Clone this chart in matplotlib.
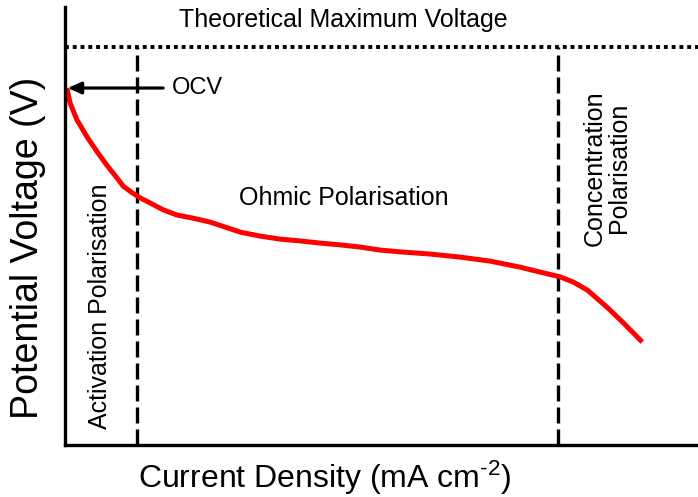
import matplotlib
matplotlib.use("Agg")
import matplotlib.pyplot as plt

plt.rcParams["font.family"] = ["Liberation Sans", "DejaVu Sans"]
plt.rcParams["mathtext.fontset"] = "custom"
plt.rcParams["mathtext.rm"] = "Liberation Sans"
plt.rcParams["mathtext.it"] = "Liberation Sans"

# polarisation curve (arbitrary units: current 0-100, voltage 0-1)
current = [0.3, 0.8, 1.9, 3.5, 5.1, 6.6, 8.2, 9.2, 10.6, 11.9, 13.4, 15.5,
           17.7, 20.2, 22.9, 27.7, 30.8, 34.0, 37.1, 40.3, 43.4, 46.6, 49.8,
           52.9, 57.7, 62.4, 67.1, 71.9, 75.0, 78.2, 80.3, 82.5, 85.6, 88.2,
           91.2]
voltage = [0.815, 0.781, 0.742, 0.703, 0.669, 0.639, 0.610, 0.591, 0.576,
           0.564, 0.553, 0.537, 0.525, 0.518, 0.509, 0.486, 0.477, 0.470,
           0.466, 0.461, 0.457, 0.452, 0.445, 0.441, 0.436, 0.429, 0.420,
           0.406, 0.395, 0.384, 0.372, 0.354, 0.315, 0.279, 0.235]

v_theoretical = 0.909
v_ocv = 0.815
region_bounds = [11.4, 77.9]

fig = plt.figure(figsize=(6.98, 4.97), dpi=100)
ax = fig.add_axes([65 / 698, 52 / 497, 633 / 698, 438 / 497])
ax.set_xlim(0, 100)
ax.set_ylim(0, 1.0)

for side in ["top", "right"]:
    ax.spines[side].set_visible(False)
for side in ["left", "bottom"]:
    ax.spines[side].set_linewidth(2.4)
ax.set_xticks([])
ax.set_yticks([])

ax.plot([0, 100], [v_theoretical, v_theoretical], color="black", lw=2.8,
        linestyle=(0, (1.0, 1.0)), dash_capstyle="butt")
for xb in region_bounds:
    ax.plot([xb, xb], [0, v_theoretical], color="black", lw=2.4,
            linestyle=(0, (4.8, 1.8)))

ax.plot(current, voltage, color="#ff0000", lw=3.6, solid_capstyle="butt",
        solid_joinstyle="round")

ax.annotate("", xy=(0.4, v_ocv), xytext=(15.5, v_ocv),
            arrowprops=dict(arrowstyle="-|>,head_length=0.8,head_width=0.35",
                            color="black", lw=2.3, shrinkA=0, shrinkB=0))
ax.text(16.9, v_ocv, "OCV", fontsize=17, ha="left", va="center")

ax.text(44.0, 0.970, "Theoretical Maximum Voltage", fontsize=18,
        ha="center", va="center")
ax.text(44.0, 0.564, "Ohmic Polarisation", fontsize=18,
        ha="center", va="center")
ax.text(5.5, 0.317, "Activation Polarisation", fontsize=18, rotation=90,
        ha="center", va="center")
ax.text(85.6, 0.632, "Concentration\nPolarisation", fontsize=18,
        rotation=90, ha="center", va="center", linespacing=1.05)

fig.text(325 / 698, 1 - 478 / 497, r"Current Density (mA cm$^{\text{-2}}$)",
         fontsize=23, ha="center", va="center")
fig.text(28 / 698, 1 - 248 / 497, "Potential Voltage (V)", fontsize=27,
         rotation=90, ha="center", va="center")

fig.savefig("out.png", dpi=100)
